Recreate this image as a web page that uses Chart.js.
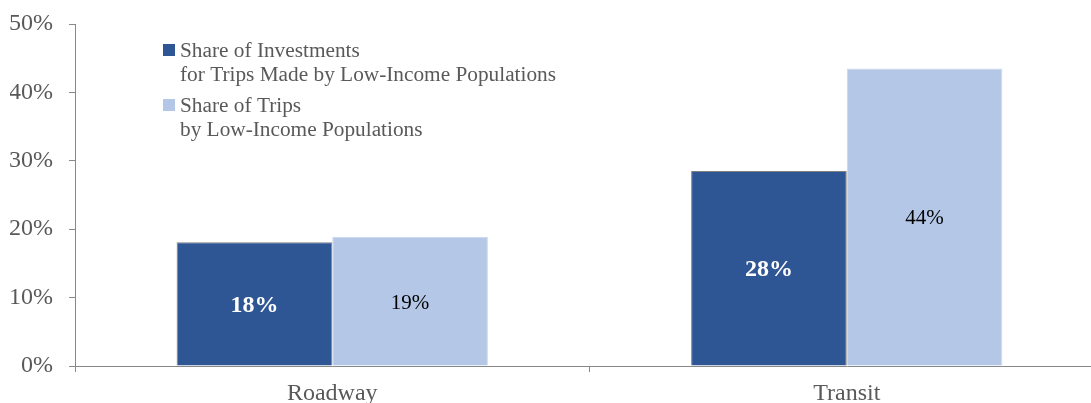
<!DOCTYPE html>
<html>
<head>
<meta charset="utf-8">
<script src="https://cdn.jsdelivr.net/npm/chart.js@4"></script>
<style>
  html, body { margin: 0; padding: 0; background: #fff; overflow: hidden; }
  #wrap { width: 1110px; height: 403px; position: relative; }
</style>
</head>
<body>
<div id="wrap"><canvas id="chart"></canvas></div>
<script>
// Données du graphique
const categories = ['Roadway', 'Transit'];
const investShare = [18.1, 28.5];
const tripShare = [18.9, 43.5];
const investLabels = ['18%', '28%'];
const tripLabels = ['19%', '44%'];
const legendInvest = ['Share of Investments', 'for Trips Made by Low-Income Populations'];
const legendTrips = ['Share of Trips', 'by Low-Income Populations'];
const yTicks = [0, 10, 20, 30, 40, 50];

const FONT = "'Liberation Serif', serif";
const GREY = '#595959';
const AXIS = '#888888';

// Étiquettes au centre des barres
const barLabels = {
    id: 'barLabels',
    afterDatasetsDraw(chart) {
        const ctx = chart.ctx;
        chart.data.datasets.forEach((ds, i) => {
            const meta = chart.getDatasetMeta(i);
            meta.data.forEach((bar, j) => {
                ctx.save();
                ctx.font = (ds.labelBold ? 'bold ' : '') + ds.labelSize + 'px ' + FONT;
                ctx.fillStyle = ds.labelColor;
                ctx.textAlign = 'center';
                ctx.textBaseline = 'middle';
                ctx.fillText(ds.valueLabels[j], bar.x, (bar.y + bar.base) / 2 + 2);
                ctx.restore();
            });
        });
    }
};

// Légende dessinée à la main (libellés sur deux lignes)
const customLegend = {
    id: 'customLegend',
    afterDraw(chart) {
        const ctx = chart.ctx;
        let y = 50;
        chart.data.datasets.forEach(ds => {
            ctx.save();
            ctx.fillStyle = ds.backgroundColor;
            ctx.fillRect(163, y - 6, 12, 12);
            ctx.font = '21.3px ' + FONT;
            ctx.fillStyle = GREY;
            ctx.textBaseline = 'middle';
            ds.legendLines.forEach((line, k) => {
                ctx.fillText(line, 180, y + 1 + k * 24);
            });
            ctx.restore();
            y += 55;
        });
    }
};

const ctx = document.getElementById('chart').getContext('2d');
new Chart(ctx, {
    type: 'bar',
    data: {
        labels: categories,
        datasets: [
            {
                label: legendInvest.join(' '),
                legendLines: legendInvest,
                data: investShare,
                valueLabels: investLabels,
                backgroundColor: '#2E5594',
                borderColor: '#7F7F7F',
                borderWidth: 1,
                labelColor: '#ffffff',
                labelBold: true,
                labelSize: 24
            },
            {
                label: legendTrips.join(' '),
                legendLines: legendTrips,
                data: tripShare,
                valueLabels: tripLabels,
                backgroundColor: '#B4C7E7',
                borderColor: '#C9D6EC',
                borderWidth: 1,
                labelColor: '#000000',
                labelBold: false,
                labelSize: 21
            }
        ]
    },
    options: {
        responsive: true,
        maintainAspectRatio: false,
        animation: false,
        layout: { padding: { left: 10, right: 6, top: 24, bottom: 0 } },
        plugins: {
            legend: { display: false },
            tooltip: { enabled: false }
        },
        datasets: {
            bar: { barPercentage: 1, categoryPercentage: 0.605 }
        },
        scales: {
            x: {
                afterFit: axis => { axis.height = 37; },
                grid: { display: true, drawOnChartArea: false, drawTicks: true, tickLength: 6, color: AXIS, offset: true },
                border: { display: true, color: AXIS },
                ticks: { color: GREY, padding: 7, font: { family: FONT, size: 24 } }
            },
            y: {
                min: 0,
                max: 50,
                afterBuildTicks: axis => { axis.ticks = yTicks.map(v => ({ value: v })); },
                afterFit: axis => { axis.width = 65; axis.paddingTop = 0; axis.paddingBottom = 0; },
                grid: { display: true, drawOnChartArea: false, drawTicks: true, tickLength: 6, color: AXIS },
                border: { display: true, color: AXIS },
                ticks: {
                    color: GREY,
                    padding: 16,
                    font: { family: FONT, size: 24 },
                    callback: v => v + '%'
                }
            }
        }
    },
    plugins: [barLabels, customLegend]
});
</script>
</body>
</html>
